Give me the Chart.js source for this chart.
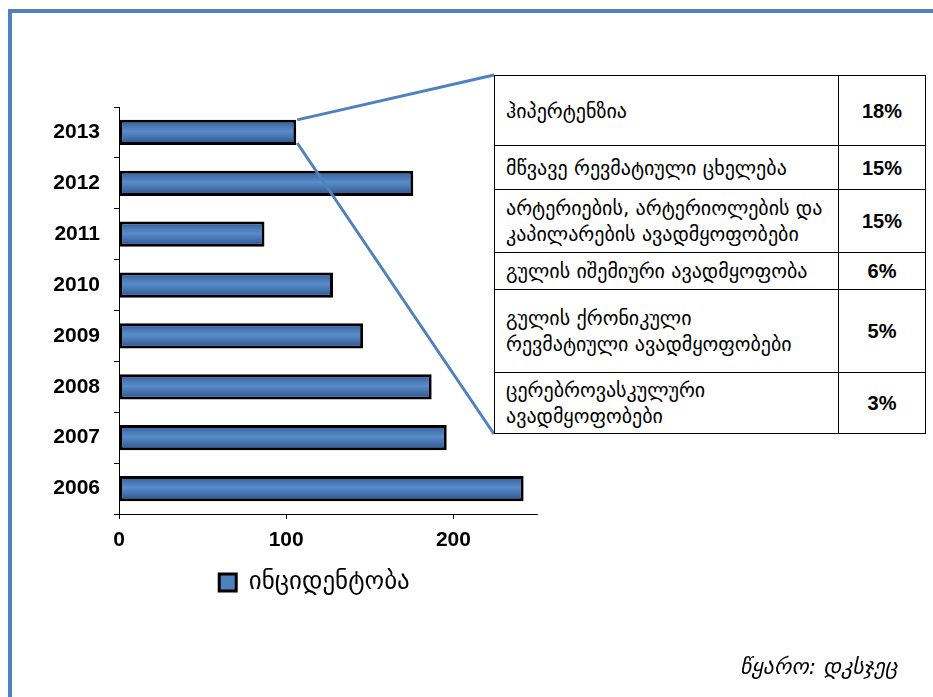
<!DOCTYPE html>
<html>
<head>
<meta charset="utf-8">
<script src="https://cdn.jsdelivr.net/npm/chart.js@4/dist/chart.umd.min.js"></script>
<style>
  html, body { margin: 0; padding: 0; background: #fff; }
  #wrap { position: relative; width: 933px; height: 697px; overflow: hidden; background: #fff; }
  #frame { position: absolute; left: 8px; top: 9px; width: 1000px; height: 800px;
           border-top: 4px solid #4F81BD; border-left: 4px solid #4F81BD; }
  #chart { position: absolute; left: 0; top: 0; }
  #causes { position: absolute; left: 494px; top: 75px; width: 431px; border-collapse: collapse;
            background: #fff; table-layout: fixed; }
  #causes td { border: 1px solid #000; padding: 0 6px 0 11px; vertical-align: middle;
               font-family: "DejaVu Sans", sans-serif; font-size: 20px; line-height: 26px; color: #000;
               white-space: nowrap; }
  #causes td.pct { text-align: center; padding: 0; font-family: "Liberation Sans", Arial, sans-serif;
                   font-weight: bold; font-size: 20px; }
  #source { position: absolute; left: 740px; top: 654px; font-family: "DejaVu Sans", sans-serif;
            font-style: italic; font-size: 22px; color: #000; white-space: nowrap; }
</style>
</head>
<body>
<div id="wrap">
  <div id="frame"></div>
  <canvas id="chart" width="933" height="697"></canvas>
  <table id="causes">
    <colgroup><col style="width:344px"><col style="width:87px"></colgroup>
    <tbody id="causesBody"></tbody>
  </table>
  <div id="source">წყარო: დკსჯეც</div>
</div>
<script>
// Incidence by year, listed top to bottom as drawn
const years = ['2013', '2012', '2011', '2010', '2009', '2008', '2007', '2006'];
const incidence = [106, 176, 87, 128, 146, 187, 196, 242];
const xTickValues = [0, 100, 200];
const seriesName = 'ინციდენტობა';

// Breakdown of causes shown in the side table
const causeNames = [
  'ჰიპერტენზია',
  'მწვავე რევმატიული ცხელება',
  'არტერიების, არტერიოლების და<br>კაპილარების ავადმყოფობები',
  'გულის იშემიური ავადმყოფობა',
  'გულის ქრონიკული<br>რევმატიული ავადმყოფობები',
  'ცერებროვასკულური<br>ავადმყოფობები'
];
const causeShares = ['18%', '15%', '15%', '6%', '5%', '3%'];
const rowHeights = [70, 44, 63, 37, 83, 61];

const body = document.getElementById('causesBody');
causeNames.forEach((name, i) => {
  const tr = document.createElement('tr');
  tr.style.height = rowHeights[i] + 'px';
  tr.innerHTML = '<td>' + name + '</td><td class="pct">' + causeShares[i] + '</td>';
  body.appendChild(tr);
});

const BLUE = '#4F81BD';
const BORDER_W = 3;

// Soft vertical shading inside each bar's border
const barShade = {
  id: 'barShade',
  afterDatasetsDraw(chart) {
    const ctx = chart.ctx;
    chart.getDatasetMeta(0).data.forEach(bar => {
      const p = bar.getProps(['x', 'y', 'base', 'height'], true);
      const left = Math.min(p.x, p.base) + BORDER_W;
      const right = Math.max(p.x, p.base) - BORDER_W;
      const top = p.y - p.height / 2 + BORDER_W;
      const bottom = p.y + p.height / 2 - BORDER_W;
      const g = ctx.createLinearGradient(0, top, 0, bottom);
      g.addColorStop(0, '#3b68a2');
      g.addColorStop(0.45, '#5a8ccb');
      g.addColorStop(1, '#325e97');
      ctx.save();
      ctx.fillStyle = g;
      ctx.fillRect(left, top, right - left, bottom - top);
      ctx.restore();
    });
  }
};

// Move the legend under the middle of the plot
const legendOffset = {
  id: 'legendOffset',
  afterLayout(chart) {
    const lg = chart.legend;
    if (!lg) return;
    lg.left += 46; lg.right += 46;
    lg.top -= 3; lg.bottom -= 3;
  }
};

// Connector lines from the 2013 bar to the causes table
const callout = {
  id: 'callout',
  afterDraw(chart) {
    const bar = chart.getDatasetMeta(0).data[0];
    const p = bar.getProps(['x', 'y', 'height'], true);
    const table = document.getElementById('causes').getBoundingClientRect();
    const wrap = document.getElementById('wrap').getBoundingClientRect();
    const tx = table.left - wrap.left;
    const ty = table.top - wrap.top;
    const tb = table.bottom - wrap.top;
    const ctx = chart.ctx;
    ctx.save();
    ctx.strokeStyle = BLUE;
    ctx.lineWidth = 3;
    ctx.beginPath();
    ctx.moveTo(p.x + 1, p.y - p.height / 2);
    ctx.lineTo(tx, ty);
    ctx.moveTo(p.x + 1, p.y + p.height / 2 - 2);
    ctx.lineTo(tx, tb);
    ctx.stroke();
    ctx.restore();
  }
};

const tickFont = { family: '"Liberation Sans", Arial, sans-serif', size: 21, weight: 'bold' };

new Chart(document.getElementById('chart'), {
  type: 'bar',
  data: {
    labels: years,
    datasets: [{
      label: seriesName,
      data: incidence,
      backgroundColor: BLUE,
      borderColor: '#000',
      borderWidth: BORDER_W,
      borderSkipped: false,
      categoryPercentage: 1,
      barPercentage: 0.495
    }]
  },
  options: {
    indexAxis: 'y',
    responsive: false,
    animation: false,
    devicePixelRatio: 1,
    layout: { padding: { left: 0, right: 396, top: 107, bottom: 89 } },
    plugins: {
      legend: {
        position: 'bottom',
        labels: {
          boxWidth: 17, boxHeight: 17, padding: 10, color: '#000',
          font: { family: '"DejaVu Sans", sans-serif', size: 25 }
        }
      },
      tooltip: { enabled: false }
    },
    scales: {
      x: {
        min: 0, max: 250,
        afterBuildTicks: s => { s.ticks = xTickValues.map(v => ({ value: v })); },
        afterFit: s => { s.height = 49; },
        grid: { drawOnChartArea: false, color: '#000', tickLength: 5 },
        border: { color: '#000', width: 1 },
        ticks: { color: '#000', font: tickFont, padding: 9 }
      },
      y: {
        afterFit: s => { s.width = 119; },
        grid: { drawOnChartArea: false, color: '#000', tickLength: 5, offset: true },
        border: { color: '#000', width: 1 },
        ticks: { color: '#000', font: tickFont, padding: 14 }
      }
    }
  },
  plugins: [barShade, legendOffset, callout]
});
</script>
</body>
</html>
